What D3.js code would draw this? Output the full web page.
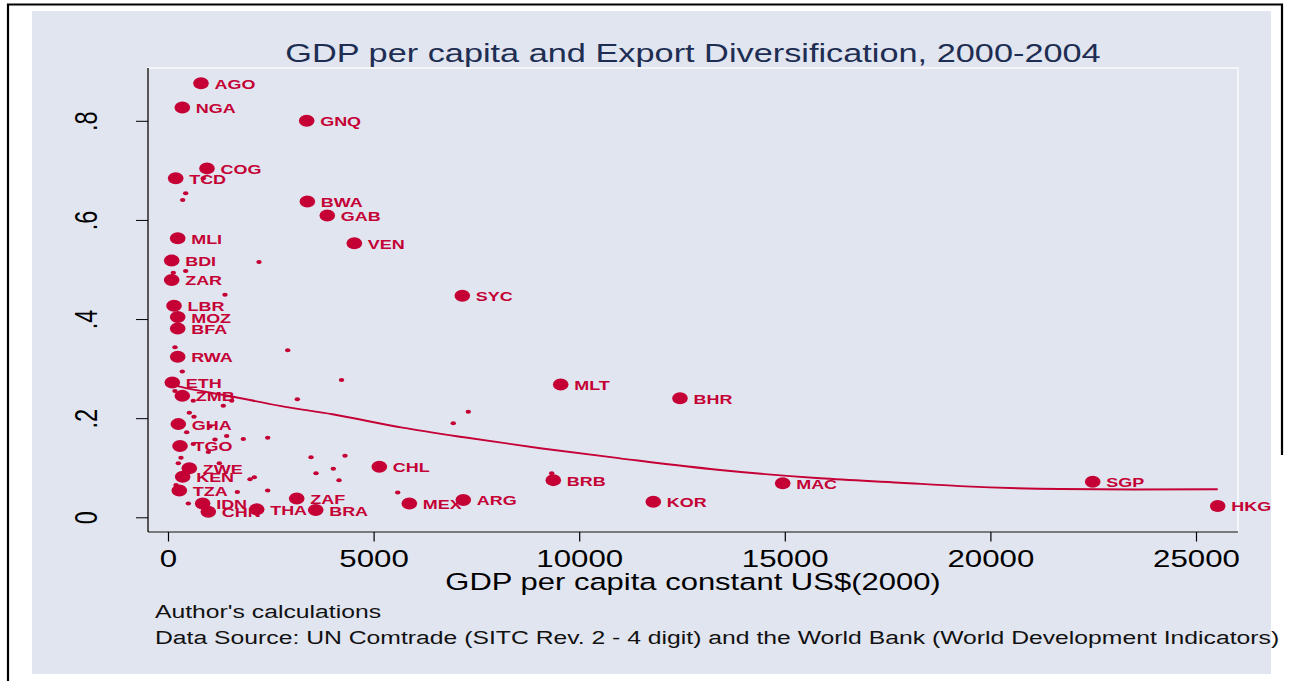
<!DOCTYPE html>
<html>
<head>
<meta charset="utf-8">
<script src="https://cdn.jsdelivr.net/npm/d3@7"></script>
<style>
  html, body { margin: 0; padding: 0; background: #ffffff; }
  svg { display: block; }
</style>
</head>
<body>
<svg id="chart" width="1291" height="681"></svg>
<script>
// ---- data -------------------------------------------------------------
const xTicks = [0, 5000, 10000, 15000, 20000, 25000];
const yTicks = [0, 0.2, 0.4, 0.6, 0.8];
const yTickLabels = ["0", ".2", ".4", ".6", ".8"];

// labelled countries: GDP per capita (constant 2000 US$) and concentration index
const labeledCodes = ["BDI","ZAR","ETH","LBR","TCD","MLI","MOZ","BFA","RWA","GHA","TZA","TGO",
  "NGA","ZMB","KEN","ZWE","AGO","IDN","COG","CHN","THA","ZAF","GNQ","BWA","BRA","GAB","VEN",
  "CHL","MEX","SYC","ARG","BRB","MLT","KOR","BHR","MAC","SGP","HKG"];
const labeledGdp = [90, 90, 105, 146, 187, 236, 236, 236, 236, 251, 275, 292,
  348, 348, 357, 518, 802, 843, 948, 980, 2157, 3130, 3373, 3389, 3592, 3874, 4531,
  5139, 5869, 7157, 7182, 9370, 9550, 11802, 12451, 14949, 22488, 25528];
const labeledShare = [0.518, 0.479, 0.272, 0.427, 0.684, 0.563, 0.404, 0.381, 0.324, 0.188, 0.054, 0.144,
  0.827, 0.245, 0.082, 0.099, 0.876, 0.028, 0.704, 0.011, 0.016, 0.038, 0.800, 0.637, 0.0147, 0.609, 0.553,
  0.102, 0.028, 0.447, 0.035, 0.075, 0.268, 0.0315, 0.240, 0.0686, 0.0718, 0.0228];

// remaining countries (unlabelled)
const otherGdp = [430, 357, 860, 2213, 129, 430, 1386, 170, 2911, 348, 4220, 170, 615, 1345, 1549,
  3145, 518, 632, 1021, 454, 1427, 1832, 2424, 1143, 615, 980, 316, 251, 3478, 4305, 1248, 4020,
  3599, 4159, 2099, 1994, 195, 1686, 2424, 5586, 494, 7303, 6938, 9331];
const otherShare = [0.654, 0.640, 0.684, 0.515, 0.4935, 0.497, 0.449, 0.343, 0.337, 0.294, 0.277, 0.255,
  0.235, 0.225, 0.235, 0.238, 0.211, 0.203, 0.183, 0.1715, 0.164, 0.158, 0.1606, 0.157, 0.148, 0.132,
  0.120, 0.109, 0.121, 0.124, 0.109, 0.098, 0.089, 0.075, 0.081, 0.077, 0.065, 0.051, 0.054, 0.050,
  0.028, 0.213, 0.190, 0.089];

// fitted (quadratic) trend
const fitGdp = [90, 292, 1500, 2725, 4000, 5700, 7200, 9051, 10992, 13424, 15856, 17802, 19261, 21693, 23500, 25528];
const fitShare = [0.268, 0.2635, 0.2447, 0.2247, 0.2078, 0.181, 0.1614, 0.1394, 0.119, 0.0954, 0.0787,
  0.0698, 0.063, 0.057, 0.0562, 0.0565];

// ---- layout -----------------------------------------------------------
const W = 1291, H = 681;
const SX = 1.33;                       // horizontal stretch applied to glyphs
const FONT = "'Liberation Sans', Arial, Helvetica, sans-serif";
const RED = "#c40035";
const BG = "#e1e5f0";
const plot = { left: 148, right: 1238, top: 68, bottom: 532 };

const svg = d3.select("#chart");

const x = d3.scaleLinear().domain([0, 25000]).range([168, 1196]);
const y = d3.scaleLinear().domain([0, 0.8]).range([517.3, 120.8]);

// page and graph region
svg.append("rect").attr("width", W).attr("height", H).attr("fill", "#ffffff");
svg.append("rect").attr("x", 32).attr("y", 11).attr("width", 1239).attr("height", 663).attr("fill", BG);

// outer frame
svg.append("path")
  .attr("d", `M8,${H + 2} L8,4.5 L1282,4.5 L1282,455`)
  .attr("fill", "none").attr("stroke", "#000").attr("stroke-width", 2.2);

// plot region outline
svg.append("rect")
  .attr("x", plot.left).attr("y", plot.top)
  .attr("width", plot.right - plot.left).attr("height", plot.bottom - plot.top)
  .attr("fill", "none").attr("stroke", "#ffffff").attr("stroke-width", 1.3);

// title
svg.append("text")
  .attr("transform", `translate(${(plot.left + plot.right) / 2},62) scale(${SX},1)`)
  .attr("text-anchor", "middle").attr("font-family", FONT).attr("font-size", 25.8)
  .attr("fill", "#1e2d52")
  .text("GDP per capita and Export Diversification, 2000-2004");

// x axis
const gx = svg.append("g").attr("transform", `translate(0,${plot.bottom})`)
  .call(d3.axisBottom(x).tickValues(xTicks).tickSize(9.5).tickFormat(d3.format("d")));
gx.select(".domain").remove();
gx.selectAll(".tick line").attr("stroke", "#000").attr("stroke-width", 1.2);
gx.selectAll(".tick text")
  .attr("y", null).attr("dy", null)
  .attr("transform", `translate(0,34.5) scale(${SX},1)`)
  .attr("font-family", FONT).attr("font-size", 23.5).attr("fill", "#000");

// y axis
const gy = svg.append("g").attr("transform", `translate(${plot.left},0)`)
  .call(d3.axisLeft(y).tickValues(yTicks).tickSize(12).tickFormat((d, i) => yTickLabels[i]));
gy.select(".domain").remove();
gy.selectAll(".tick line").attr("stroke", "#000").attr("stroke-width", 1);
gy.selectAll(".tick text")
  .attr("x", null).attr("dy", null)
  .attr("text-anchor", "middle")
  .attr("transform", `translate(-51,0) scale(${SX},1) rotate(-90)`)
  .attr("font-family", FONT).attr("font-size", 23.5).attr("fill", "#000");

// axis lines
svg.append("line").attr("x1", plot.left).attr("x2", plot.right)
  .attr("y1", plot.bottom).attr("y2", plot.bottom)
  .attr("stroke", "#000").attr("stroke-width", 1.2);
svg.append("line").attr("x1", plot.left).attr("x2", plot.left)
  .attr("y1", plot.top).attr("y2", plot.bottom)
  .attr("stroke", "#000").attr("stroke-width", 1.3);

// axis title
svg.append("text")
  .attr("transform", `translate(${(plot.left + plot.right) / 2},590) scale(${SX},1)`)
  .attr("text-anchor", "middle").attr("font-family", FONT).attr("font-size", 23.3)
  .attr("fill", "#000")
  .text("GDP per capita constant US$(2000)");

// notes
const notes = ["Author's calculations",
  "Data Source: UN Comtrade (SITC Rev. 2 - 4 digit) and the World Bank (World Development Indicators)"];
svg.selectAll("text.note").data(notes).enter().append("text")
  .attr("class", "note")
  .attr("transform", (d, i) => `translate(155,${618.3 + i * 25.7}) scale(${SX},1)`)
  .attr("font-family", FONT).attr("font-size", 18.6).attr("fill", "#111")
  .text(d => d);

// labelled markers, each followed by its label
const labeled = labeledCodes.map((c, i) => ({ code: c, gdp: labeledGdp[i], share: labeledShare[i] }))
  .sort((a, b) => a.gdp - b.gdp);
const gl = svg.append("g");
labeled.forEach(d => {
  const cx = x(d.gdp), cy = y(d.share);
  gl.append("ellipse").attr("cx", cx).attr("cy", cy).attr("rx", 7.8).attr("ry", 6).attr("fill", RED);
  gl.append("text")
    .attr("transform", `translate(${cx + 13.5},${cy + 5.5}) scale(${SX},1)`)
    .attr("font-family", FONT).attr("font-size", 13.5).attr("font-weight", "bold")
    .attr("fill", RED).text(d.code);
});

// unlabelled markers
svg.append("g").selectAll("ellipse")
  .data(otherGdp.map((g, i) => [g, otherShare[i]]))
  .enter().append("ellipse")
  .attr("cx", d => x(d[0])).attr("cy", d => y(d[1]))
  .attr("rx", 2.7).attr("ry", 2).attr("fill", RED);

// fitted line
svg.append("path")
  .datum(fitGdp.map((g, i) => [g, fitShare[i]]))
  .attr("d", d3.line().x(d => x(d[0])).y(d => y(d[1])).curve(d3.curveMonotoneX))
  .attr("fill", "none").attr("stroke", RED).attr("stroke-width", 1.9);
</script>
</body>
</html>
